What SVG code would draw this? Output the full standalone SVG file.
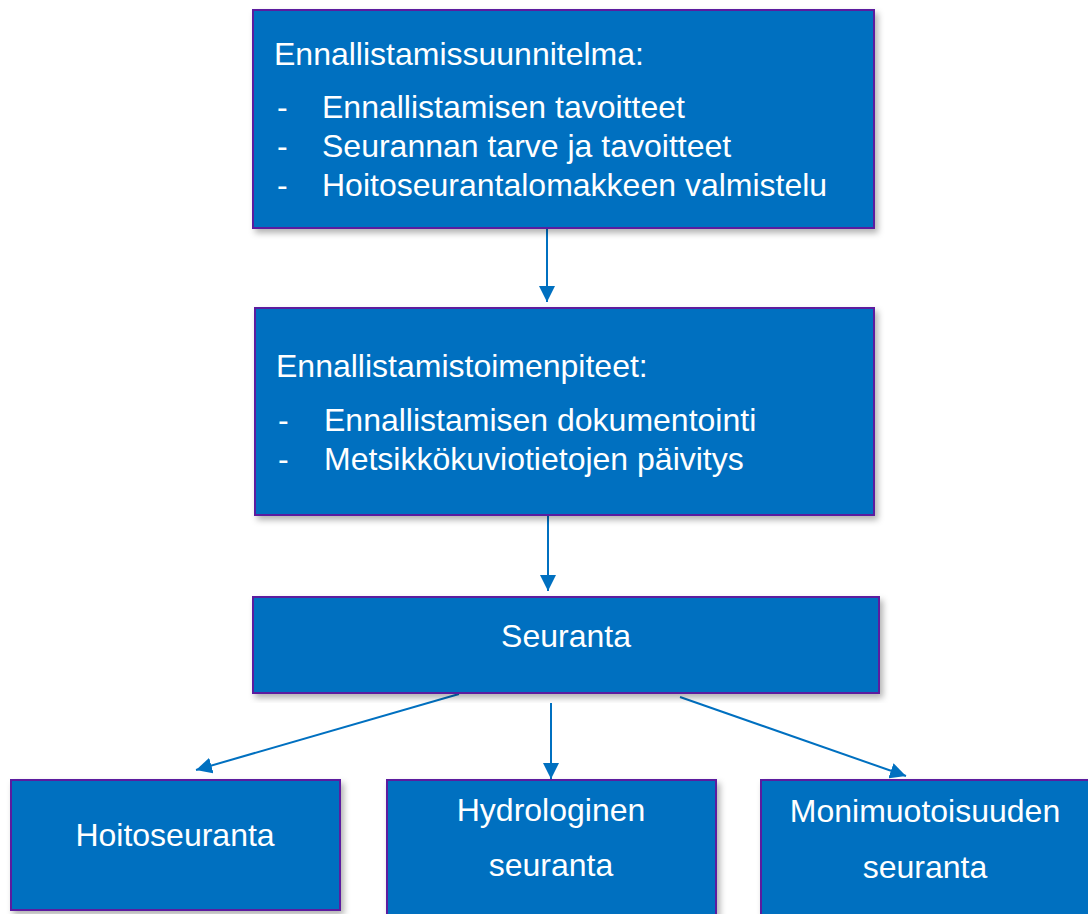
<svg xmlns="http://www.w3.org/2000/svg" width="1088" height="914" viewBox="0 0 1088 914">
<style>
.box{fill:#0070C0;stroke:#5B1E9F;stroke-width:2;filter:url(#sh)}
.t{font-family:"Liberation Sans",Arial,sans-serif;font-size:32px;fill:#fff}
.c{text-anchor:middle}
.ln{stroke:#0070C0;stroke-width:2;fill:none;marker-end:url(#ahb)}
</style>
<defs>
<filter id="sh" x="-5%" y="-5%" width="110%" height="115%">
<feDropShadow dx="3" dy="4" stdDeviation="3" flood-color="#000" flood-opacity="0.3"/>
</filter>
<marker id="ahb" viewBox="0 0 16 16" refX="16" refY="8" markerWidth="16" markerHeight="16" orient="auto" markerUnits="userSpaceOnUse">
<path d="M0,0 L16,8 L0,16 z" fill="#0070C0"/>
</marker>
</defs>
<g id="connectors">
<line class="ln" x1="547" y1="229" x2="547" y2="302"/>
<line class="ln" x1="548" y1="516" x2="548" y2="591"/>
<line class="ln" x1="459" y1="694" x2="196" y2="770"/>
<line class="ln" x1="551" y1="703" x2="551" y2="779"/>
<line class="ln" x1="680" y1="697" x2="906" y2="776"/>
</g>
<g id="n1">
<rect class="box" x="253" y="10" width="621" height="218"/>
<text class="t" x="274" y="65">Ennallistamissuunnitelma:</text>
<text class="t" x="277" y="118">-</text><text class="t" x="322" y="118">Ennallistamisen tavoitteet</text>
<text class="t" x="277" y="157">-</text><text class="t" x="322" y="157">Seurannan tarve ja tavoitteet</text>
<text class="t" x="277" y="196">-</text><text class="t" x="322" y="196">Hoitoseurantalomakkeen valmistelu</text>
</g>
<g id="n2">
<rect class="box" x="255" y="308" width="619" height="207"/>
<text class="t" x="276" y="377">Ennallistamistoimenpiteet:</text>
<text class="t" x="278" y="431">-</text><text class="t" x="324" y="431">Ennallistamisen dokumentointi</text>
<text class="t" x="278" y="470">-</text><text class="t" x="324" y="470">Metsikkökuviotietojen päivitys</text>
</g>
<g id="n3">
<rect class="box" x="253" y="597" width="626" height="96"/>
<text class="t c" x="566" y="647">Seuranta</text>
</g>
<g id="n4">
<rect class="box" x="11" y="780" width="329" height="130"/>
<text class="t c" x="175" y="846">Hoitoseuranta</text>
</g>
<g id="n5">
<rect class="box" x="387" y="780" width="329" height="140"/>
<text class="t c" x="551" y="821">Hydrologinen</text>
<text class="t c" x="551" y="876">seuranta</text>
</g>
<g id="n6">
<rect class="box" x="761" y="780" width="340" height="140"/>
<text class="t c" x="925" y="822">Monimuotoisuuden</text>
<text class="t c" x="925" y="878">seuranta</text>
</g>
</svg>
